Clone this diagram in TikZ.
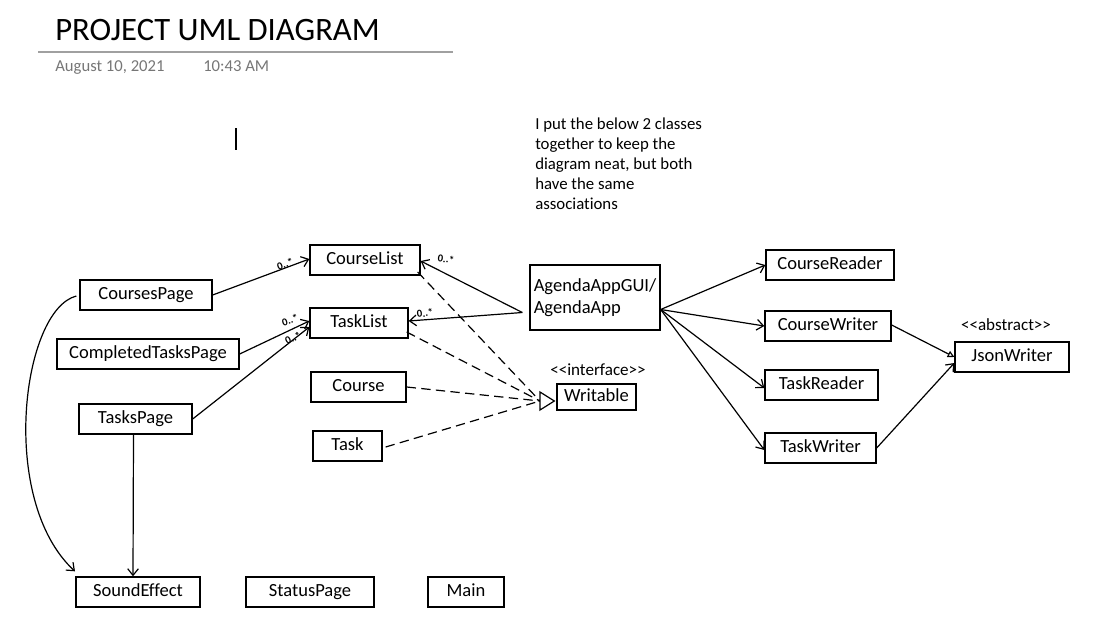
\documentclass[tikz,border=0pt]{standalone}
\usepackage{fontspec}
\setmainfont{Carlito}[Ligatures={NoCommon}]
\usetikzlibrary{arrows.meta}
\definecolor{graytxt}{RGB}{118,118,118}
\definecolor{grayline}{RGB}{160,160,160}
\newcommand{\lt}{<\kern0pt}
\newcommand{\gt}{>\kern0pt}
\begin{document}
\begin{tikzpicture}[x=0.75pt,y=-0.75pt,
  box/.style={draw, line width=1pt, minimum height=22.5pt, inner sep=0pt, text height=9.6pt, text depth=2.6pt, font=\fontsize{13.9}{16.5}\selectfont},
  conn/.style={line width=0.9pt},
  oarrow/.style={conn, -{Straight Barb[length=5pt,width=8pt]}},
  dashline/.style={conn, dash pattern=on 7pt off 4pt},
  mult/.style={font=\fontsize{8}{8}\selectfont\bfseries, inner sep=0pt},
  stereo/.style={font=\fontsize{12.8}{15}\selectfont, inner sep=0pt}
]
\useasboundingbox (0,0) rectangle (1101,629);

% header
\node[anchor=base west, inner sep=0pt, font=\fontsize{24.5}{28}\selectfont] (title) at (55,40) {PROJECT UML DIAGRAM};
\draw[grayline, line width=0.9pt] (38,52) -- (453,52);
\node[anchor=base west, inner sep=0pt, text=graytxt, font=\fontsize{12.5}{15}\selectfont] (date) at (55,71) {August 10, 2021};
\node[anchor=base west, inner sep=0pt, text=graytxt, font=\fontsize{12.5}{15}\selectfont] (time) at (203,71) {10:43 AM};
\draw[line width=0.8pt] (236,128) -- (236,150);

% note
\node[anchor=north west, align=left, inner sep=0pt, font=\fontsize{12.6}{15}\selectfont] (note) at (535,118)
  {I put the below 2 classes\\together to keep the\\diagram neat, but both\\have the same\\associations};

% classes
\node[box, minimum width=82.5pt] (cl) at (365,260) {CourseList};
\node[box, minimum width=73.5pt] (tl) at (359,323) {TaskList};
\node[box, minimum width=99pt] (cp) at (146,295) {CoursesPage};
\node[box, minimum width=136.5pt] (ctp) at (148,354) {CompletedTasksPage};
\node[box, minimum width=84.75pt] (tp) at (135.5,419) {TasksPage};
\node[box, minimum width=71.25pt] (co) at (358.5,387) {Course};
\node[box, minimum width=51.75pt] (ta) at (347.5,446) {Task};
\node[box, minimum width=59.25pt, minimum height=19.5pt] (wr) at (596.5,397) {Writable};
\node[stereo] (wrs) at (598,370) {\lt\lt interface\gt\gt};
\node[box, minimum width=97.5pt, minimum height=48.75pt, align=left, text height=, text depth=] (ag) at (595,297.5) {AgendaAppGUI/\\AgendaApp};
\node[box, minimum width=96pt] (cr) at (830,265) {CourseReader};
\node[box, minimum width=94.5pt] (cw) at (828,326) {CourseWriter};
\node[box, minimum width=84.75pt] (tr) at (821.5,385) {TaskReader};
\node[box, minimum width=83.25pt] (tw) at (820.5,448) {TaskWriter};
\node[box, minimum width=85.5pt] (jw) at (1012,357) {JsonWriter};
\node[stereo] (jws) at (1006,325) {\lt\lt abstract\gt\gt};
\node[box, minimum width=93pt] (se) at (138,592) {SoundEffect};
\node[box, minimum width=96pt] (sp) at (310,592) {StatusPage};
\node[box, minimum width=57pt] (mn) at (466,592) {Main};

% pages -> lists
\draw[oarrow] (cp.east) -- ([shift={(0,-1)}]cl.west);
\node[mult, rotate=20] (m1) at (285,264) {0..*};
\draw[oarrow] (ctp.east) -- ([shift={(0,-2)}]tl.west);
\draw[oarrow] (tp.east) -- ([shift={(0,4)}]tl.west);
\node[mult, rotate=18] (m2) at (290,320) {0..*};
\node[mult, rotate=25] (m3) at (293,338) {0..*};

% agenda -> lists
\coordinate (agl) at ([shift={(-7,15)}]ag.west);
\draw[oarrow] (agl) -- ([shift={(0,1)}]cl.east);
\draw[oarrow] (agl) -- ([shift={(0,-2)}]tl.east);
\node[mult, rotate=-8] (m4) at (446,259) {0..*};
\node[mult, rotate=8] (m5) at (425,313) {0..*};

% realisation -> Writable
\coordinate (wb) at (540,401);
\draw[dashline] ([shift={(-3,12)}]cl.east) -- (wb);
\draw[dashline] ([shift={(-2,9)}]tl.east) -- (wb);
\draw[dashline] (co.east) -- (wb);
\draw[dashline] ([shift={(3,1)}]ta.east) -- (wb);
\draw[line width=0.9pt, fill=white] (540,392) -- ([shift={(-2,4)}]wr.west) -- (540,410) -- cycle;

% agenda -> readers/writers
\coordinate (agr) at ([shift={(0,12)}]ag.east);
\draw[oarrow] (agr) -- (cr.west);
\draw[oarrow] (agr) -- (cw.west);
\draw[oarrow] (agr) -- ([shift={(0,3)}]tr.west);
\draw[oarrow] (agr) -- ([shift={(0,2)}]tw.west);

% writers -> JsonWriter
\draw[conn, -{Triangle[open, length=5pt, width=5pt]}] ([shift={(0,-1)}]cw.east) -- (jw.west);
\draw[oarrow] (tw.east) -- ([shift={(0,6)}]jw.west);

% sound effect
\draw[oarrow] ([shift={(-3,1)}]cp.west) .. controls (22,310) and (-2,500) .. ([shift={(-63,-5)}]se.north);
\draw[oarrow] ([shift={(-2,0)}]tp.south) -- ([shift={(-5,0)}]se.north);
\end{tikzpicture}
\end{document}
